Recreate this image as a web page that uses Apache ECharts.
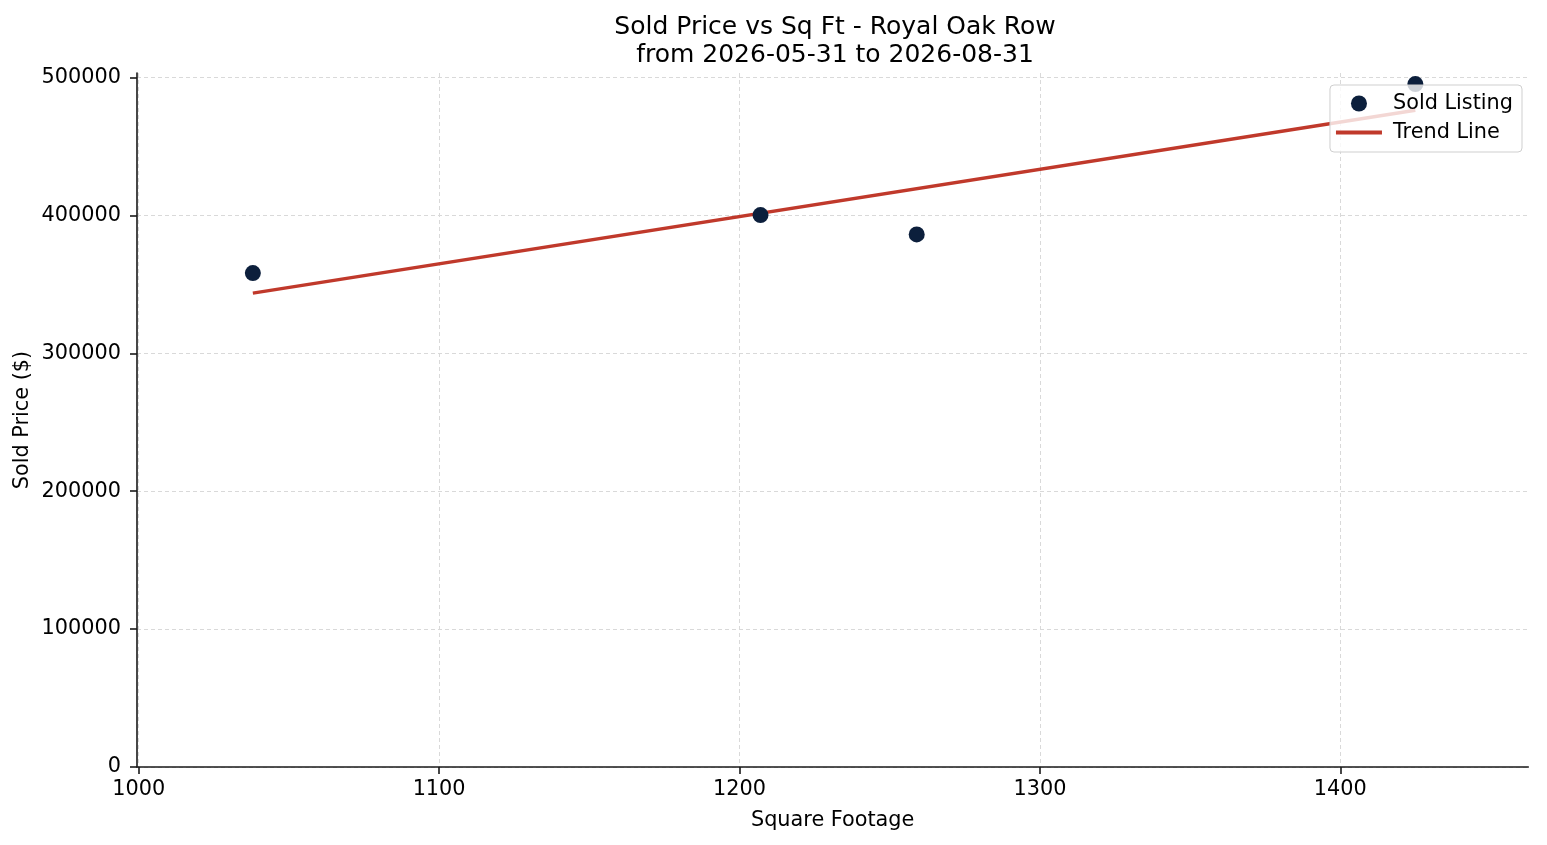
<!DOCTYPE html>
<html>
<head>
<meta charset="utf-8">
<script src="https://cdn.jsdelivr.net/npm/echarts@6/dist/echarts.min.js"></script>
<style>
  html, body { margin: 0; padding: 0; background: #fff; }
  #chart { width: 1547px; height: 845px; }
</style>
</head>
<body>
<div id="chart"></div>
<script>
// data
var sqft = [1038, 1207, 1259, 1425];
var soldPrice = [358000, 400000, 386000, 495000];
var trendX = [1038, 1425];
var trendY = [343500, 476000];
var xTicks = [1000, 1100, 1200, 1300, 1400];
var yTicks = [0, 100000, 200000, 300000, 400000, 500000];

var FONT = 'DejaVu Sans';
var INK = '#1a1a1a';
var LABEL = 20.8;
var gridLine = { show: true, lineStyle: { color: '#d9d9d9', width: 1, type: [4, 3] } };
var plain = function (v) { return String(v); };

var points = sqft.map(function (x, i) { return [x, soldPrice[i]]; });
var trend = trendX.map(function (x, i) { return [x, trendY[i]]; });

var myChart = echarts.init(document.getElementById('chart'));

var option = {
    backgroundColor: '#fff',
    animation: false,
    textStyle: { fontFamily: FONT },
    title: {
        text: 'Sold Price vs Sq Ft - Royal Oak Row\nfrom 2026-05-31 to 2026-08-31',
        left: 835,
        top: 13,
        padding: 0,
        textAlign: 'center',
        textStyle: { fontFamily: FONT, fontSize: 25, fontWeight: 'normal', color: '#000', lineHeight: 28 }
    },
    legend: {
        orient: 'vertical',
        right: 25,
        top: 85,
        padding: [8, 9, 9, 6],
        itemGap: 8,
        itemWidth: 46,
        itemHeight: 16,
        backgroundColor: 'rgba(255,255,255,0.8)',
        borderColor: '#cfcfcf',
        borderWidth: 1,
        borderRadius: 4,
        textStyle: { fontFamily: FONT, fontSize: LABEL, color: '#000', padding: [0, 0, 0, 6] },
        data: [
            { name: 'Sold Listing', icon: 'circle' },
            { name: 'Trend Line', icon: 'path://M0,0L46,0L46,4L0,4Z', itemStyle: { color: '#c0392b' } }
        ]
    },
    grid: [
        // plot area with spines
        { left: 137, right: 18.7, top: 73, bottom: 78 },
        // x ticks / labels / vertical grid
        { left: 138.7, width: 4 * 300.4, top: 73, bottom: 78 },
        // y ticks / labels / horizontal grid
        { left: 137, right: 18.7, bottom: 78, height: 5 * 137.9 }
    ],
    xAxis: [
        {
            gridIndex: 0, type: 'value', min: 999.43, max: 1462.6,
            name: 'Square Footage', nameLocation: 'middle', nameGap: 43,
            nameTextStyle: { fontFamily: FONT, fontSize: LABEL, color: '#000' },
            axisLine: { show: true, lineStyle: { color: INK, width: 1.6 } },
            axisTick: { show: false }, axisLabel: { show: false }, splitLine: { show: false }
        },
        {
            gridIndex: 1, type: 'value', min: xTicks[0], max: xTicks[xTicks.length - 1], interval: 100,
            axisLine: { show: false },
            axisTick: { show: true, length: 7, lineStyle: { color: INK, width: 1.6 } },
            axisLabel: { margin: 12, fontFamily: FONT, fontSize: LABEL, color: '#000', formatter: plain },
            splitLine: gridLine
        },
        {
            gridIndex: 2, type: 'value', show: false
        }
    ],
    yAxis: [
        {
            gridIndex: 0, type: 'value', min: 0, max: 503000,
            name: 'Sold Price ($)', nameLocation: 'middle', nameGap: 104,
            nameTextStyle: { fontFamily: FONT, fontSize: LABEL, color: '#000' },
            axisLine: { show: true, lineStyle: { color: INK, width: 1.6 } },
            axisTick: { show: false }, axisLabel: { show: false }, splitLine: { show: false }
        },
        {
            gridIndex: 1, type: 'value', show: false, min: 0, max: 1
        },
        {
            gridIndex: 2, type: 'value', min: yTicks[0], max: yTicks[yTicks.length - 1], interval: 100000,
            axisLine: { show: false },
            axisTick: { show: true, length: 7, lineStyle: { color: INK, width: 1.6 } },
            axisLabel: { margin: 16, fontFamily: FONT, fontSize: LABEL, color: '#000', formatter: plain },
            splitLine: gridLine
        }
    ],
    series: [
        {
            name: 'Sold Listing',
            type: 'scatter',
            xAxisIndex: 0, yAxisIndex: 0,
            symbol: 'circle',
            symbolSize: 16,
            itemStyle: { color: '#0c1f3c', opacity: 1 },
            z: 3,
            data: points
        },
        {
            name: 'Trend Line',
            type: 'line',
            xAxisIndex: 0, yAxisIndex: 0,
            symbol: 'none',
            lineStyle: { color: '#c0392b', width: 3.4 },
            itemStyle: { color: '#c0392b' },
            z: 2,
            data: trend
        }
    ]
};

myChart.setOption(option);
</script>
</body>
</html>
